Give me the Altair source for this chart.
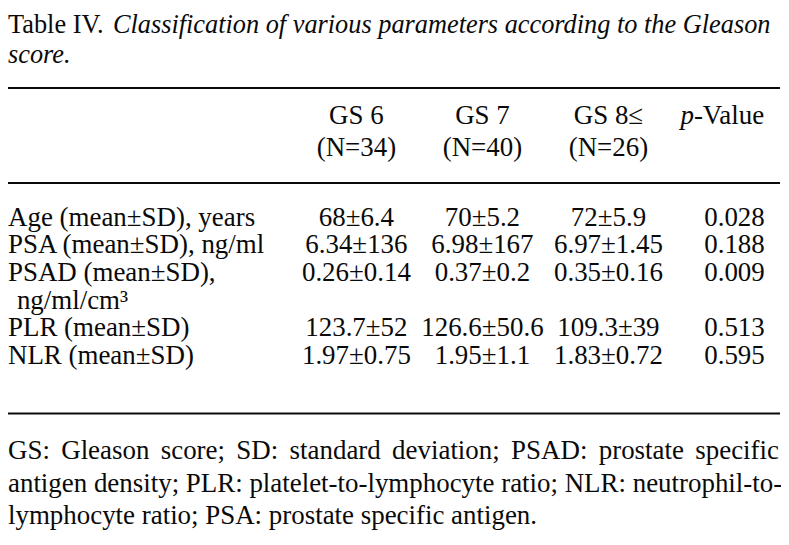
import altair as alt
import pandas as pd

FONT = "Liberation Serif"
FS = 27.2
FS_TITLE = 26.6
INK = "#0a0a0a"

# ---- text content -------------------------------------------------------
title_lead = "Table IV."
title_rest = ["Classification of various parameters according to the Gleason", "score."]

group_keys = ["GS 6", "GS 7", "GS 8≤", "p"]
group_heads = ["GS 6", "GS 7", "GS 8≤"]
group_n = ["(N=34)", "(N=40)", "(N=26)"]

param_lines = [
    ["Age (mean±SD), years"],
    ["PSA (mean±SD), ng/ml"],
    ["PSAD (mean±SD),", "ng/ml/cm³"],
    ["PLR (mean±SD)"],
    ["NLR (mean±SD)"],
]
gs6 = ["68±6.4", "6.34±136", "0.26±0.14", "123.7±52", "1.97±0.75"]
gs7 = ["70±5.2", "6.98±167", "0.37±0.2", "126.6±50.6", "1.95±1.1"]
gs8 = ["72±5.9", "6.97±1.45", "0.35±0.16", "109.3±39", "1.83±0.72"]
pval = ["0.028", "0.188", "0.009", "0.513", "0.595"]

footnote = [
    "GS: Gleason score; SD: standard deviation; PSAD: prostate specific",
    "antigen density; PLR: platelet-to-lymphocyte ratio; NLR: neutrophil-to-",
    "lymphocyte ratio; PSA: prostate specific antigen.",
]

# Times-compatible advance widths (per 1000 em) used to justify the first
# footnote line.
ADV = {" ": 250, "G": 722, "S": 556, ":": 278, "l": 278, "e": 444, "a": 444,
       "s": 389, "o": 500, "n": 500, "c": 444, "r": 333, ";": 278, "D": 722,
       "t": 278, "d": 500, "v": 500, "i": 278, "P": 556, "A": 722, "p": 500,
       "f": 333}

def text_w(s, fs):
    return sum(ADV.get(ch, 500) for ch in s) * fs / 1000.0

# ---- tables built from the lists ----------------------------------------
label_rows, cell_rows = [], []
slot = 0
for i, lines in enumerate(param_lines):
    for j, ln in enumerate(lines):
        label_rows.append({"text": ln, "slot": slot + j, "cont": j > 0})
    for key, vals in zip(group_keys, [gs6, gs7, gs8, pval]):
        cell_rows.append({"col": key, "text": vals[i], "slot": slot})
    slot += len(lines)
labels = pd.DataFrame(label_rows)
cells = pd.DataFrame(cell_rows)
heads = pd.DataFrame({"col": group_keys[:3], "l1": group_heads, "l2": group_n})

W, H = 781, 537
LINE_W = 779
INDENT = 9
xs = alt.Scale(type="point", domain=group_keys, range=[352, 734], padding=0)
ys = alt.Scale(domain=[0, slot - 1], range=[209, 349])

one = pd.DataFrame({"t": [0]})

def txt(**kw):
    base = dict(font=FONT, fontSize=FS, color=INK, baseline="middle")
    base.update(kw)
    return alt.Chart(one).mark_text(**base)

title1 = txt(text=title_lead, align="left", fontSize=FS_TITLE).encode(x=alt.value(0), y=alt.value(14))
title2 = txt(text=title_rest[0], align="left", fontStyle="italic", fontSize=FS_TITLE).encode(
    x=alt.value(106), y=alt.value(14))
title3 = txt(text=title_rest[1], align="left", fontStyle="italic", fontSize=FS_TITLE).encode(
    x=alt.value(0), y=alt.value(45))

rules = [
    alt.Chart(one).mark_rule(strokeWidth=2, color=INK).encode(
        x=alt.value(0), x2=alt.value(780), y=alt.value(yy))
    for yy in (78, 174, 407)
]

head1 = alt.Chart(heads).mark_text(font=FONT, fontSize=FS, color=INK, baseline="middle").encode(
    x=alt.X("col:N", scale=xs, axis=None), y=alt.value(106), text="l1:N")
head2 = alt.Chart(heads).mark_text(font=FONT, fontSize=FS, color=INK, baseline="middle").encode(
    x=alt.X("col:N", scale=xs, axis=None), y=alt.value(139), text="l2:N")
ph = txt(text="p", align="right", fontStyle="italic").encode(x=alt.value(693), y=alt.value(106))
pv = txt(text="-Value", align="left").encode(x=alt.value(693), y=alt.value(106))

lab_first = alt.Chart(labels).transform_filter("!datum.cont").mark_text(
    font=FONT, fontSize=FS, color=INK, baseline="middle", align="left").encode(
    x=alt.value(0), y=alt.Y("slot:Q", scale=ys, axis=None), text="text:N")
lab_cont = alt.Chart(labels).transform_filter("datum.cont").mark_text(
    font=FONT, fontSize=FS, color=INK, baseline="middle", align="left").encode(
    x=alt.value(INDENT), y=alt.Y("slot:Q", scale=ys, axis=None), text="text:N")
cel = alt.Chart(cells).mark_text(font=FONT, fontSize=FS, color=INK, baseline="middle").encode(
    x=alt.X("col:N", scale=xs, axis=None), y=alt.Y("slot:Q", scale=ys, axis=None), text="text:N")

# first footnote line justified to the full width
words = footnote[0].split(" ")
ww = [text_w(w, FS) for w in words]
gap = (LINE_W - sum(ww)) / (len(words) - 1)
lefts, acc = [], 0.0
for w in ww:
    lefts.append(acc)
    acc += w + gap
fn = [txt(text=w, align="left").encode(x=alt.value(xx), y=alt.value(445))
      for w, xx in zip(words, lefts)]
fn += [txt(text=t, align="left").encode(x=alt.value(0), y=alt.value(yy))
       for t, yy in zip(footnote[1:], (478, 511))]

chart = alt.layer(title1, title2, title3, *rules, head1, head2, ph, pv,
                  lab_first, lab_cont, cel, *fn).properties(
    width=W, height=H, padding=0, autosize=alt.AutoSizeParams(type="none")
).configure_view(stroke=None)

chart.save("out.html", embed_options={"renderer": "svg", "actions": False})
